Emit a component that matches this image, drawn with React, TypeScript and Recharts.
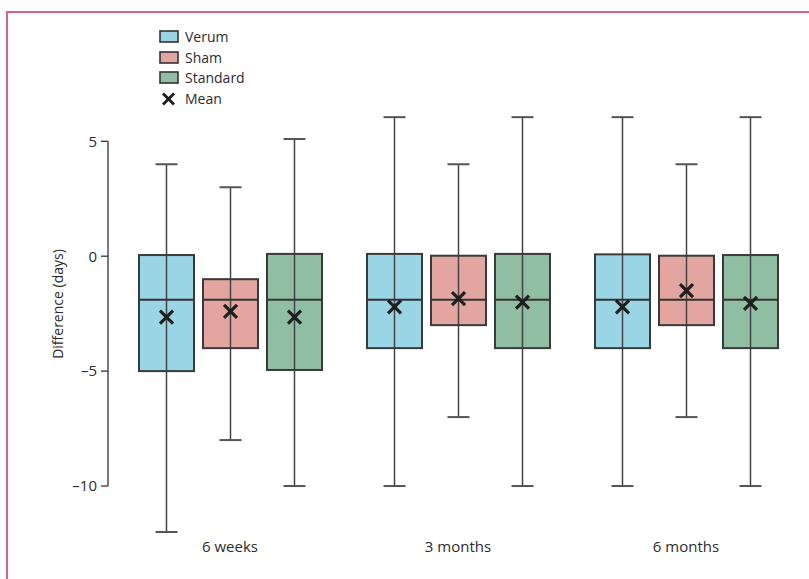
import React from 'react';
import { ComposedChart, Bar, XAxis, YAxis, Legend, ReferenceLine } from 'recharts';

const categories = ['6 weeks', '3 months', '6 months'];
const seriesNames = ['Verum', 'Sham', 'Standard'];
const seriesColors = ['#9ad5e5', '#e2a59f', '#8fbea2'];

const verumMin = [-12, -10, -10];
const verumQ1 = [-5, -4, -4];
const verumMedian = [-1.9, -1.9, -1.9];
const verumQ3 = [0.05, 0.1, 0.08];
const verumMax = [4, 6.05, 6.05];
const verumMean = [-2.65, -2.2, -2.2];

const shamMin = [-8, -7, -7];
const shamQ1 = [-4, -3, -3];
const shamMedian = [-1.9, -1.9, -1.9];
const shamQ3 = [-1, 0.02, 0.02];
const shamMax = [3, 4, 4];
const shamMean = [-2.4, -1.85, -1.5];

const standardMin = [-10, -10, -10];
const standardQ1 = [-4.95, -4, -4];
const standardMedian = [-1.9, -1.9, -1.9];
const standardQ3 = [0.1, 0.1, 0.05];
const standardMax = [5.1, 6.05, 6.05];
const standardMean = [-2.65, -2.0, -2.05];

const yTicks = [5, 0, -5, -10];
const yDomain = [-12, 6.1];
const axisLineRange = [5, -10];

const stats = (mn, q1, md, q3, mx, mean, i) => ({
  min: mn[i], q1: q1[i], median: md[i], q3: q3[i], max: mx[i], mean: mean[i],
});

const rows = categories.map((c, i) => ({
  category: c,
  verum: [verumMin[i], verumMax[i]],
  verumStats: stats(verumMin, verumQ1, verumMedian, verumQ3, verumMax, verumMean, i),
  sham: [shamMin[i], shamMax[i]],
  shamStats: stats(shamMin, shamQ1, shamMedian, shamQ3, shamMax, shamMean, i),
  standard: [standardMin[i], standardMax[i]],
  standardStats: stats(standardMin, standardQ1, standardMedian, standardQ3, standardMax, standardMean, i),
}));

const TEXT = '#2b2b2b';
const FONT = '"Open Sans", sans-serif';

const makeBoxShape = (statsKey: string, fill: string) => (props: any) => {
  const { x, y, width, height, payload } = props;
  const s = payload[statsKey];
  const top = Math.min(y, y + height);
  const h = Math.abs(height);
  const ppu = h / (s.max - s.min);
  const py = (v: number) => top + (s.max - v) * ppu;
  const cx = x + width / 2;
  const capW = 22;
  const yq3 = py(s.q3);
  const yq1 = py(s.q1);
  const ym = py(s.median);
  const yMean = py(s.mean);
  const m = 6.5;
  return (
    <g>
      <rect x={x} y={yq3} width={width} height={yq1 - yq3} fill={fill} stroke="none" />
      <line x1={cx} x2={cx} y1={py(s.max)} y2={py(s.min)} stroke="#444" strokeWidth={1.5} />
      <line x1={cx - capW / 2} x2={cx + capW / 2} y1={py(s.max)} y2={py(s.max)} stroke="#555" strokeWidth={2} />
      <line x1={cx - capW / 2} x2={cx + capW / 2} y1={py(s.min)} y2={py(s.min)} stroke="#555" strokeWidth={2} />
      <rect x={x} y={yq3} width={width} height={yq1 - yq3} fill="none" stroke="#3a3a3a" strokeWidth={2} />
      <line x1={x} x2={x + width} y1={ym} y2={ym} stroke="#333" strokeWidth={2} />
      <line x1={cx - m} x2={cx + m} y1={yMean - m} y2={yMean + m} stroke="#1e1e1e" strokeWidth={3.2} />
      <line x1={cx - m} x2={cx + m} y1={yMean + m} y2={yMean - m} stroke="#1e1e1e" strokeWidth={3.2} />
    </g>
  );
};

const LegendContent = () => (
  <div style={{ fontFamily: FONT, fontSize: 14, color: TEXT, lineHeight: '20.5px' }}>
    {seriesNames.map((n, i) => (
      <div key={n} style={{ display: 'flex', alignItems: 'center', height: 20.5 }}>
        <svg width={26} height={14} style={{ display: 'block' }}>
          <rect x={1} y={1} width={18} height={11} fill={seriesColors[i]} stroke="#333" strokeWidth={1.6} />
        </svg>
        <span>{n}</span>
      </div>
    ))}
    <div style={{ display: 'flex', alignItems: 'center', height: 20.5 }}>
      <svg width={26} height={14} style={{ display: 'block' }}>
        <line x1={4} x2={15} y1={1.5} y2={12.5} stroke="#1e1e1e" strokeWidth={2.8} />
        <line x1={4} x2={15} y1={12.5} y2={1.5} stroke="#1e1e1e" strokeWidth={2.8} />
      </svg>
      <span>Mean</span>
    </div>
  </div>
);

const XTick = (props: any) => {
  const { x, y, payload } = props;
  return (
    <text x={x} y={y + 12} textAnchor="middle" fill={TEXT} fontSize={15} fontFamily={FONT}>
      {payload.value}
    </text>
  );
};

const YLabel = (props: any) => {
  const { viewBox } = props;
  const cx = viewBox.x + 57;
  const cy = viewBox.y + viewBox.height / 2 - 20;
  return (
    <text x={cx} y={cy} transform={`rotate(-90 ${cx} ${cy})`} textAnchor="middle" dominantBaseline="central"
      fill={TEXT} fontSize={14} fontFamily={FONT}>
      Difference (days)
    </text>
  );
};

export default function App() {
  return (
    <div style={{ position: 'absolute', left: 0, top: 0, width: 809, height: 579, background: '#fff' }}>
      <div style={{ position: 'absolute', left: 6, top: 11, right: 0, bottom: 0, borderTop: '2px solid #d9608a', borderLeft: '2px solid #d9608a' }} />
      <div style={{ position: 'absolute', left: 0, top: 0 }}>
        <ComposedChart width={809} height={579} data={rows} margin={{ top: 116, right: 9, bottom: 17, left: 0 }}
          barSize={55} barGap={9}>
          <XAxis dataKey="category" axisLine={false} tickLine={false} padding={{ left: 8, right: 0 }}
            height={30} tick={<XTick />} interval={0} />
          <XAxis xAxisId="n" type="number" domain={[0, 1]} hide />
          <YAxis type="number" domain={yDomain} ticks={yTicks} interval={0} width={108} axisLine={false}
            tickSize={7} tickMargin={4} tickLine={{ stroke: '#333', strokeWidth: 1.3 }}
            tick={{ fill: TEXT, fontSize: 15, fontFamily: FONT }}
            tickFormatter={(v: number) => (v < 0 ? '\u2013' + Math.abs(v) : String(v))}
            label={<YLabel />} />
          <ReferenceLine xAxisId="n" segment={[{ x: 0, y: axisLineRange[0] }, { x: 0, y: axisLineRange[1] }]}
            stroke="#333" strokeWidth={1.3} />
          <Legend layout="horizontal" verticalAlign="middle" align="center" content={<LegendContent />}
            wrapperStyle={{ position: 'absolute', left: 159, top: 27, width: 120, height: 90 }} />
          <Bar dataKey="verum" name="Verum" fill={seriesColors[0]} isAnimationActive={false}
            shape={makeBoxShape('verumStats', seriesColors[0])} />
          <Bar dataKey="sham" name="Sham" fill={seriesColors[1]} isAnimationActive={false}
            shape={makeBoxShape('shamStats', seriesColors[1])} />
          <Bar dataKey="standard" name="Standard" fill={seriesColors[2]} isAnimationActive={false}
            shape={makeBoxShape('standardStats', seriesColors[2])} />
        </ComposedChart>
      </div>
    </div>
  );
}
